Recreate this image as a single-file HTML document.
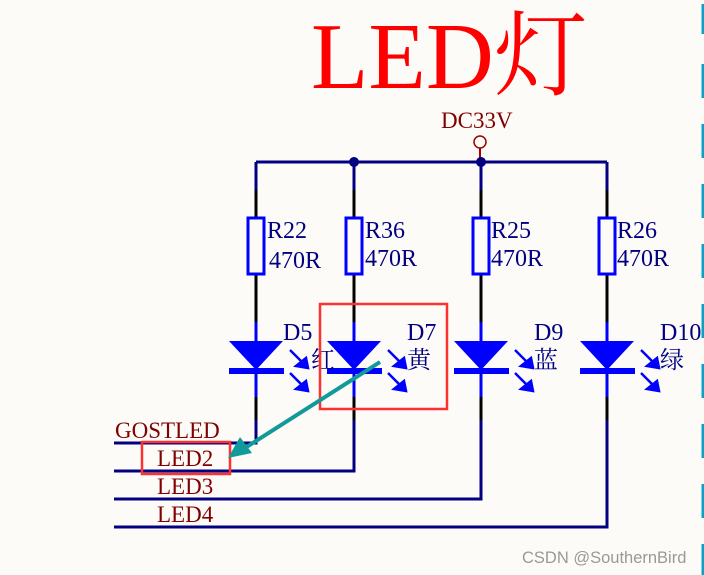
<!DOCTYPE html>
<html><head><meta charset="utf-8"><style>
html,body{margin:0;padding:0;background:#fdfbf7;}
svg{display:block}
.t{font-family:"Liberation Serif","Noto Serif CJK SC",serif;}
</style></head><body>
<svg width="704" height="575" viewBox="0 0 704 575" xmlns="http://www.w3.org/2000/svg">
<rect width="704" height="575" fill="#fdfbf7"/>
<text x="311" y="88" class="t" font-size="94" fill="#ff0000">LED灯</text>
<text x="441" y="128" class="t" font-size="23" fill="#800000">DC33V</text>
<circle cx="480" cy="142" r="6" fill="none" stroke="#a00000" stroke-width="1.5"/>
<line x1="480" y1="148" x2="480" y2="162" stroke="#a00000" stroke-width="2"/>
<line x1="256" y1="162" x2="607" y2="162" stroke="#000080" stroke-width="3"/>
<circle cx="354" cy="162" r="5" fill="#000080"/>
<circle cx="481" cy="162" r="5" fill="#000080"/>
<g stroke-width="3" fill="none">
<path d="M256 162V190M354 162V190M481 162V190M607 162V190" stroke="#000080"/>
<path d="M256 190V218M354 190V218M481 190V218M607 190V218M256 274V322M354 274V322M481 274V322M607 274V322M256 397V420M354 397V420M481 397V420M607 397V420" stroke="#000"/>
<path d="M256 420V443H114M354 420V471H114M481 420V499H114M607 420V527H114" stroke="#000080"/>
<path d="M256 322V397M354 322V397M481 322V397M607 322V397" stroke="#0000ff"/>
</g>
<g fill="none" stroke="#0000ff" stroke-width="3">
<rect x="248" y="218" width="16" height="56"/><rect x="346" y="218" width="16" height="56"/>
<rect x="473" y="218" width="16" height="56"/><rect x="599" y="218" width="16" height="56"/>
</g>
<g fill="#0000ff">
<polygon points="229,341 283,341 256,370"/><rect x="229" y="368" width="55" height="6"/>
<polygon points="327,341 381,341 354,370"/><rect x="327" y="368" width="55" height="6"/>
<polygon points="454,341 508,341 481,370"/><rect x="454" y="368" width="55" height="6"/>
<polygon points="580,341 634,341 607,370"/><rect x="580" y="368" width="55" height="6"/>
</g>
<g stroke="#0000ff" stroke-width="2.5" fill="#0000ff">
<g id="a"><line x1="290" y1="350" x2="304" y2="364"/><polygon points="308,368 296,366 306,358"/><line x1="290" y1="373" x2="304" y2="387"/><polygon points="308,391 296,389 306,381"/></g>
<use href="#a" x="98"/><use href="#a" x="225"/><use href="#a" x="351"/>
</g>
<g class="t" font-size="24" fill="#000080">
<text x="267" y="238">R22</text><text x="269" y="268">470R</text>
<text x="365" y="238">R36</text><text x="365" y="266">470R</text>
<text x="491" y="238">R25</text><text x="491" y="266">470R</text>
<text x="617" y="238">R26</text><text x="617" y="266">470R</text>
<text x="283" y="340">D5</text><text x="311" y="368">红</text>
<text x="407" y="340">D7</text><text x="407" y="368">黄</text>
<text x="534" y="340">D9</text><text x="534" y="368">蓝</text>
<text x="660" y="340">D10</text><text x="660" y="368">绿</text>
</g>
<g class="t" font-size="23" fill="#800000">
<text x="115" y="438">GOSTLED</text><text x="157" y="466">LED2</text>
<text x="157" y="494">LED3</text><text x="157" y="522">LED4</text>
</g>
<rect x="320" y="304" width="127" height="105" fill="none" stroke="#ff3030" stroke-width="2.5"/>
<rect x="142" y="442" width="88" height="32" fill="none" stroke="#ff3030" stroke-width="2.5"/>
<line x1="380" y1="362" x2="245" y2="448" stroke="#109a9a" stroke-width="4"/>
<polygon points="228,458 240,437 252,453" fill="#109a9a"/>
<g stroke="#0aa0c8" stroke-width="3">
<line x1="703" y1="4" x2="703" y2="34"/><line x1="703" y1="64" x2="703" y2="98"/>
<line x1="703" y1="124" x2="703" y2="158"/><line x1="703" y1="184" x2="703" y2="218"/>
<line x1="703" y1="244" x2="703" y2="278"/><line x1="703" y1="304" x2="703" y2="338"/>
<line x1="703" y1="364" x2="703" y2="398"/><line x1="703" y1="424" x2="703" y2="458"/>
<line x1="703" y1="484" x2="703" y2="518"/><line x1="703" y1="544" x2="703" y2="575"/>
</g>
<text x="522" y="563" font-family="Liberation Sans,sans-serif" font-size="16.5" fill="#999">CSDN @SouthernBird</text>
</svg>
</body></html>
